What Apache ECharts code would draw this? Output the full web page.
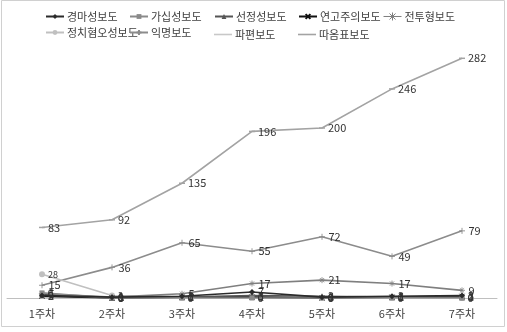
<!DOCTYPE html>
<html>
<head>
<meta charset="utf-8">
<script src="https://cdn.jsdelivr.net/npm/echarts@6/dist/echarts.min.js"></script>
<style>
html,body{margin:0;padding:0;background:#fff;}
#chart{width:507px;height:332px;}
</style>
</head>
<body>
<div id="chart"></div>
<script>
// Weekly counts of each reporting type
const categories = ['1주차', '2주차', '3주차', '4주차', '5주차', '6주차', '7주차'];
const seriesNames = ['경마성보도', '가십성보도', '선정성보도', '연고주의보도', '전투형보도',
                     '정치혐오성보도', '익명보도', '파편보도', '따옴표보도'];
const horseRace   = [3, 1, 2, 7, 1, 2, 3];
const gossip      = [6, 0, 0, 0, 0, 0, 0];
const sensational = [4, 0, 1, 3, 2, 1, 1];
const cronyism    = [2, 0, 1, 1, 0, 1, 2];
const combative   = [5, 1, 5, 17, 21, 17, 9];
const cynicism    = [28, 3, 1, 2, 0, 1, 0];
const anonymous   = [15, 36, 65, 55, 72, 49, 79];
const fragmented  = [0, 0, 0, 0, 0, 0, 0];
const quotation   = [83, 92, 135, 196, 200, 246, 282];
const yMax = 300;

const values = [horseRace, gossip, sensational, cronyism, combative, cynicism, anonymous, fragmented, quotation];

const X_PATH = 'path://M0,0L10,10M10,0L0,10';
const PLUS_PATH = 'path://M5,0L5,10M0,5L10,5';
const STAR_PATH = 'path://M5,0L5,10M0,5L10,5M1.5,1.5L8.5,8.5M8.5,1.5L1.5,8.5';
const STAR_LEGEND = 'path://M0,5L18,5M9,1L9,9M6,2L12,8M12,2L6,8';

const styles = [
  {color: '#2b2b2b', symbol: 'diamond', size: 6, stroke: 0},
  {color: '#8a8a8a', symbol: 'rect', size: 5, stroke: 0},
  {color: '#555555', symbol: 'triangle', size: 6, stroke: 0},
  {color: '#111111', symbol: X_PATH, size: 5, stroke: 1},
  {color: '#7f7f7f', symbol: STAR_PATH, size: 6, stroke: 0.8},
  {color: '#c0c0c0', symbol: 'circle', size: 6, stroke: 0},
  {color: '#8c8c8c', symbol: PLUS_PATH, size: 6, stroke: 0.9},
  {color: '#c8c8c8', symbol: 'none', size: 0, stroke: 0},
  {color: '#a3a3a3', symbol: 'rect', size: [6, 1.5], stroke: 0}
];

const font = '"Noto Sans CJK KR", "Noto Sans", sans-serif';

const series = seriesNames.map((name, i) => ({
  name: name,
  type: 'line',
  data: values[i],
  z: 10 - i,
  symbol: styles[i].symbol,
  symbolSize: styles[i].size,
  showSymbol: true,
  lineStyle: {color: styles[i].color, width: 1.6},
  itemStyle: {color: styles[i].color, borderColor: styles[i].color, borderWidth: styles[i].stroke},
  label: {
    show: true,
    position: 'right',
    distance: 3,
    fontFamily: font,
    fontSize: i === 5 ? 9 : 11,
    color: '#333'
  },
  animation: false
}));

// one legend per item so the columns line up on a fixed pitch
const legendPos = [
  [40, 6], [124, 6], [209, 6], [293, 6], [378, 6],
  [40, 22], [124, 22], [209, 22], [293, 22]
];
const legends = seriesNames.map((name, i) => {
  const lg = {
    data: [name],
    left: legendPos[i][0],
    top: legendPos[i][1],
    itemWidth: 18,
    itemHeight: 6,
    itemGap: 0,
    textStyle: {fontFamily: font, fontSize: 11, color: '#404040', padding: [0, 0, 0, -2]},
    selectedMode: false
  };
  if (i === 4) {
    lg.data = [{name: name, icon: STAR_LEGEND}];
    lg.itemHeight = 8;
    lg.itemStyle = {color: styles[i].color, borderColor: styles[i].color, borderWidth: 1};
  } else if (i === 7 || i === 8) {
    lg.data = [{name: name, icon: 'rect'}];
    lg.itemHeight = 1.6;
    lg.top = legendPos[i][1] + 2;
    lg.itemStyle = {color: styles[i].color, borderWidth: 0};
  }
  return lg;
});

const chart = echarts.init(document.getElementById('chart'), null, {renderer: 'canvas'});
chart.setOption({
  backgroundColor: '#fff',
  animation: false,
  legend: legends,
  grid: {left: 7, right: 10, top: 43, bottom: 34, containLabel: false},
  xAxis: {
    type: 'category',
    data: categories,
    boundaryGap: true,
    axisLine: {lineStyle: {color: '#bfbfbf', width: 1}},
    axisTick: {show: false},
    axisLabel: {fontFamily: font, fontSize: 11, color: '#404040', margin: 10}
  },
  yAxis: {
    type: 'value',
    min: 0,
    max: yMax,
    show: false,
    splitLine: {show: false}
  },
  series: series,
  graphic: [{
    type: 'rect',
    shape: {x: 1.5, y: 0.5, width: 503, height: 326},
    style: {fill: 'none', stroke: '#d0d0d0', lineWidth: 1},
    silent: true,
    z: 100
  }]
});
</script>
</body>
</html>
